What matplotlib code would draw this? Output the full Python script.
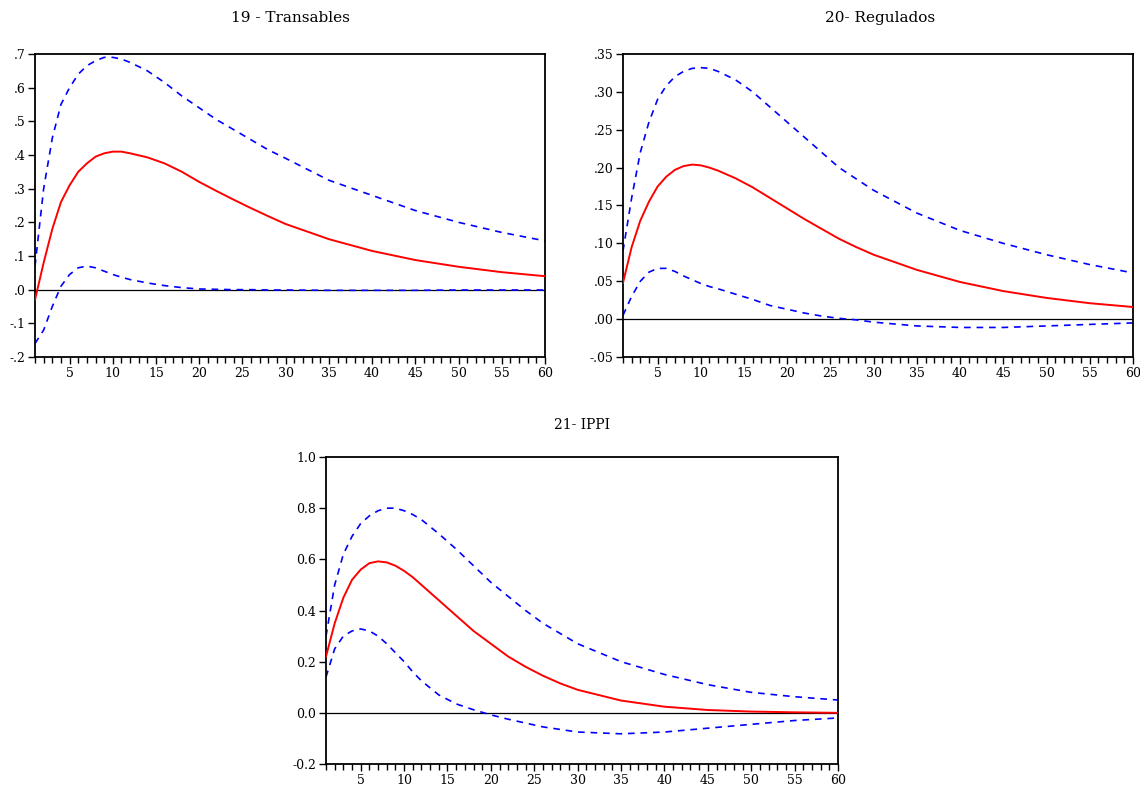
import matplotlib
matplotlib.use("Agg")
import matplotlib.pyplot as plt
from matplotlib.ticker import MultipleLocator, FixedLocator, FixedFormatter

plt.rcParams['font.family'] = ['DejaVu Serif', 'Liberation Serif']

# periods at which values were read
periods = [1, 2, 3, 4, 5, 6, 7, 8, 9, 10, 11, 12, 14, 16, 18, 20, 22, 24, 26, 28, 30, 35, 40, 45, 50, 55, 60]

# 19 - Transables
trans_resp = [-0.03, 0.08, 0.18, 0.26, 0.31, 0.35, 0.375, 0.395, 0.405, 0.41, 0.41, 0.405, 0.393, 0.375, 0.35, 0.32, 0.293, 0.267, 0.242, 0.218, 0.195, 0.15, 0.115, 0.088, 0.068, 0.052, 0.04]
trans_up = [0.07, 0.3, 0.45, 0.55, 0.6, 0.64, 0.665, 0.68, 0.69, 0.69, 0.685, 0.675, 0.65, 0.615, 0.575, 0.54, 0.505, 0.475, 0.445, 0.415, 0.39, 0.325, 0.28, 0.235, 0.2, 0.17, 0.145]
trans_lo = [-0.16, -0.12, -0.05, 0.01, 0.045, 0.065, 0.07, 0.065, 0.055, 0.045, 0.037, 0.03, 0.02, 0.012, 0.006, 0.002, 0.001, 0.0, 0.0, -0.001, -0.001, -0.002, -0.002, -0.002, -0.001, -0.001, -0.001]

# 20- Regulados
reg_resp = [0.048, 0.095, 0.13, 0.155, 0.175, 0.188, 0.197, 0.202, 0.204, 0.203, 0.2, 0.196, 0.186, 0.174, 0.16, 0.146, 0.132, 0.119, 0.106, 0.095, 0.085, 0.065, 0.049, 0.037, 0.028, 0.021, 0.016]
reg_up = [0.09, 0.16, 0.22, 0.26, 0.29, 0.308, 0.32, 0.327, 0.331, 0.332, 0.331, 0.327, 0.316, 0.3, 0.28, 0.26, 0.24, 0.22, 0.2, 0.185, 0.17, 0.14, 0.117, 0.1, 0.085, 0.072, 0.061]
reg_lo = [0.005, 0.03, 0.05, 0.062, 0.067, 0.067, 0.063, 0.057, 0.052, 0.047, 0.043, 0.04, 0.033, 0.026, 0.018, 0.013, 0.008, 0.004, 0.001, -0.001, -0.004, -0.009, -0.011, -0.011, -0.009, -0.007, -0.005]

# 21- IPPI
ippi_resp = [0.22, 0.35, 0.45, 0.52, 0.56, 0.585, 0.592, 0.588, 0.575, 0.555, 0.53, 0.5, 0.44, 0.38, 0.32, 0.27, 0.22, 0.18, 0.145, 0.115, 0.09, 0.048, 0.024, 0.011, 0.005, 0.002, 0.0]
ippi_up = [0.3, 0.5, 0.62, 0.69, 0.74, 0.77, 0.79, 0.8, 0.8, 0.79, 0.775, 0.755, 0.7, 0.64, 0.575, 0.51, 0.455, 0.4, 0.35, 0.31, 0.27, 0.2, 0.15, 0.11, 0.08, 0.063, 0.05]
ippi_lo = [0.14, 0.25, 0.3, 0.32, 0.328, 0.32, 0.3, 0.27, 0.235, 0.2, 0.16, 0.125, 0.07, 0.035, 0.012, -0.008, -0.025, -0.04, -0.055, -0.065, -0.075, -0.082, -0.075, -0.06, -0.045, -0.03, -0.02]

titles = ["19 - Transables", "20- Regulados", "21- IPPI"]
yticks1 = [-0.2, -0.1, 0.0, 0.1, 0.2, 0.3, 0.4, 0.5, 0.6, 0.7]
ylabels1 = ["-.2", "-.1", ".0", ".1", ".2", ".3", ".4", ".5", ".6", ".7"]
yticks2 = [-0.05, 0.0, 0.05, 0.10, 0.15, 0.20, 0.25, 0.30, 0.35]
ylabels2 = ["-.05", ".00", ".05", ".10", ".15", ".20", ".25", ".30", ".35"]
yticks3 = [-0.2, 0.0, 0.2, 0.4, 0.6, 0.8, 1.0]
ylabels3 = ["-0.2", "0.0", "0.2", "0.4", "0.6", "0.8", "1.0"]
xticks = [5, 10, 15, 20, 25, 30, 35, 40, 45, 50, 55, 60]

W, H = 1140, 792
fig = plt.figure(figsize=(W / 100, H / 100), dpi=100)


def px_axes(left, top, right, bottom):
    return fig.add_axes([left / W, 1 - bottom / H, (right - left) / W, (bottom - top) / H])


def draw(ax, resp, up, lo, yticks, ylabels):
    ax.axhline(0, color='black', lw=0.9, zorder=1)
    ax.plot(periods, up, color='#0000ff', lw=1.2, ls=(0, (4, 3.5)), zorder=2)
    ax.plot(periods, lo, color='#0000ff', lw=1.2, ls=(0, (4, 3.5)), zorder=2)
    ax.plot(periods, resp, color='#ff0000', lw=1.4, zorder=3)
    ax.set_xlim(1, 60)
    ax.set_ylim(yticks[0], yticks[-1])
    ax.xaxis.set_major_locator(FixedLocator(xticks))
    ax.xaxis.set_minor_locator(MultipleLocator(1))
    ax.yaxis.set_major_locator(FixedLocator(yticks))
    ax.yaxis.set_major_formatter(FixedFormatter(ylabels))
    ax.tick_params(axis='both', which='major', direction='out', length=5, width=1.0,
                   labelsize=9, pad=2, color='black')
    ax.tick_params(axis='x', which='minor', direction='out', length=4, width=1.0)
    for s in ax.spines.values():
        s.set_linewidth(1.3)


ax1 = px_axes(35, 54, 545, 357)
draw(ax1, trans_resp, trans_up, trans_lo, yticks1, ylabels1)
ax2 = px_axes(623, 54, 1133, 357)
draw(ax2, reg_resp, reg_up, reg_lo, yticks2, ylabels2)
ax3 = px_axes(326, 457, 838, 764)
draw(ax3, ippi_resp, ippi_up, ippi_lo, yticks3, ylabels3)

fig.text(290 / W, 1 - 18 / H, titles[0], ha='center', va='center', fontsize=11)
fig.text(880 / W, 1 - 18 / H, titles[1], ha='center', va='center', fontsize=11)
fig.text(582 / W, 1 - 425 / H, titles[2], ha='center', va='center', fontsize=10)

fig.savefig("out.png", dpi=100)
